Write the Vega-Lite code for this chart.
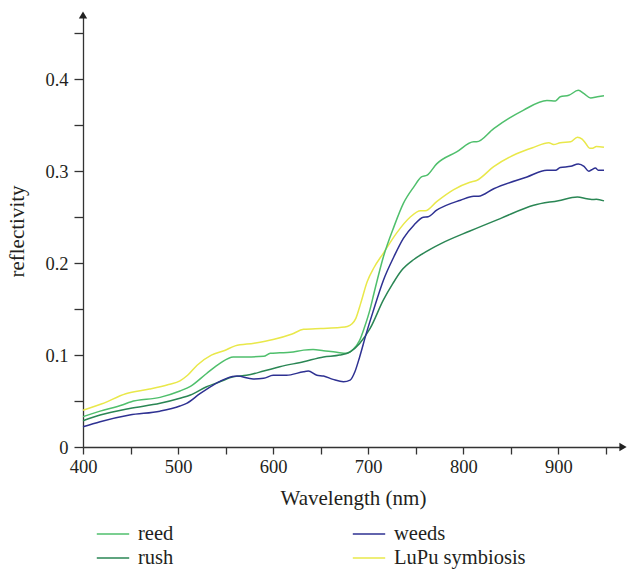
{
  "$schema": "https://vega.github.io/schema/vega-lite/v6.json",
  "autosize": {"type": "none"},
  "padding": {"left": 83, "top": 15, "right": 5, "bottom": 125},
  "width": 540,
  "height": 432,
  "background": "white",
  "config": {
    "view": {"stroke": null},
    "font": "Liberation Serif",
    "axis": {
      "domainColor": "#333333",
      "tickColor": "#333333",
      "labelColor": "#231f20",
      "titleColor": "#231f20",
      "labelFont": "Liberation Serif",
      "titleFont": "Liberation Serif",
      "labelFontSize": 18.5,
      "titleFontSize": 21,
      "titleFontWeight": "normal",
      "grid": false,
      "domainWidth": 1.3,
      "tickWidth": 1.3
    },
    "legend": {
      "labelFont": "Liberation Serif",
      "labelFontSize": 20.5,
      "labelColor": "#231f20"
    }
  },
  "datasets": {
    "spectra": [
      {"s": "LuPu symbiosis", "w": 400, "r": 0.040},
      {"s": "LuPu symbiosis", "w": 420, "r": 0.047},
      {"s": "LuPu symbiosis", "w": 445, "r": 0.058},
      {"s": "LuPu symbiosis", "w": 470, "r": 0.063},
      {"s": "LuPu symbiosis", "w": 490, "r": 0.068},
      {"s": "LuPu symbiosis", "w": 502, "r": 0.072},
      {"s": "LuPu symbiosis", "w": 510, "r": 0.078},
      {"s": "LuPu symbiosis", "w": 520, "r": 0.089},
      {"s": "LuPu symbiosis", "w": 535, "r": 0.100},
      {"s": "LuPu symbiosis", "w": 549, "r": 0.105},
      {"s": "LuPu symbiosis", "w": 560, "r": 0.110},
      {"s": "LuPu symbiosis", "w": 580, "r": 0.113},
      {"s": "LuPu symbiosis", "w": 600, "r": 0.117},
      {"s": "LuPu symbiosis", "w": 620, "r": 0.123},
      {"s": "LuPu symbiosis", "w": 632, "r": 0.128},
      {"s": "LuPu symbiosis", "w": 650, "r": 0.129},
      {"s": "LuPu symbiosis", "w": 670, "r": 0.130},
      {"s": "LuPu symbiosis", "w": 678, "r": 0.131},
      {"s": "LuPu symbiosis", "w": 683, "r": 0.134},
      {"s": "LuPu symbiosis", "w": 687, "r": 0.140},
      {"s": "LuPu symbiosis", "w": 692, "r": 0.156},
      {"s": "LuPu symbiosis", "w": 699, "r": 0.180},
      {"s": "LuPu symbiosis", "w": 706, "r": 0.195},
      {"s": "LuPu symbiosis", "w": 716, "r": 0.211},
      {"s": "LuPu symbiosis", "w": 730, "r": 0.233},
      {"s": "LuPu symbiosis", "w": 744, "r": 0.250},
      {"s": "LuPu symbiosis", "w": 755, "r": 0.257},
      {"s": "LuPu symbiosis", "w": 760, "r": 0.257},
      {"s": "LuPu symbiosis", "w": 772, "r": 0.267},
      {"s": "LuPu symbiosis", "w": 790, "r": 0.280},
      {"s": "LuPu symbiosis", "w": 807, "r": 0.288},
      {"s": "LuPu symbiosis", "w": 814, "r": 0.290},
      {"s": "LuPu symbiosis", "w": 832, "r": 0.305},
      {"s": "LuPu symbiosis", "w": 856, "r": 0.319},
      {"s": "LuPu symbiosis", "w": 874, "r": 0.326},
      {"s": "LuPu symbiosis", "w": 890, "r": 0.331},
      {"s": "LuPu symbiosis", "w": 895, "r": 0.329},
      {"s": "LuPu symbiosis", "w": 902, "r": 0.331},
      {"s": "LuPu symbiosis", "w": 913, "r": 0.332},
      {"s": "LuPu symbiosis", "w": 920, "r": 0.337},
      {"s": "LuPu symbiosis", "w": 925, "r": 0.335},
      {"s": "LuPu symbiosis", "w": 929, "r": 0.330},
      {"s": "LuPu symbiosis", "w": 933, "r": 0.325},
      {"s": "LuPu symbiosis", "w": 936, "r": 0.325},
      {"s": "LuPu symbiosis", "w": 940, "r": 0.327},
      {"s": "LuPu symbiosis", "w": 948, "r": 0.326},

      {"s": "reed", "w": 400, "r": 0.033},
      {"s": "reed", "w": 418, "r": 0.039},
      {"s": "reed", "w": 442, "r": 0.046},
      {"s": "reed", "w": 450, "r": 0.049},
      {"s": "reed", "w": 481, "r": 0.054},
      {"s": "reed", "w": 502, "r": 0.061},
      {"s": "reed", "w": 513, "r": 0.066},
      {"s": "reed", "w": 530, "r": 0.080},
      {"s": "reed", "w": 544, "r": 0.091},
      {"s": "reed", "w": 558, "r": 0.098},
      {"s": "reed", "w": 572, "r": 0.098},
      {"s": "reed", "w": 590, "r": 0.0986},
      {"s": "reed", "w": 597, "r": 0.102},
      {"s": "reed", "w": 607, "r": 0.1025},
      {"s": "reed", "w": 618, "r": 0.103},
      {"s": "reed", "w": 632, "r": 0.1054},
      {"s": "reed", "w": 642, "r": 0.106},
      {"s": "reed", "w": 653, "r": 0.1047},
      {"s": "reed", "w": 667, "r": 0.103},
      {"s": "reed", "w": 677, "r": 0.102},
      {"s": "reed", "w": 684, "r": 0.106},
      {"s": "reed", "w": 691, "r": 0.116},
      {"s": "reed", "w": 696, "r": 0.130},
      {"s": "reed", "w": 702, "r": 0.150},
      {"s": "reed", "w": 706, "r": 0.167},
      {"s": "reed", "w": 716, "r": 0.207},
      {"s": "reed", "w": 727, "r": 0.2395},
      {"s": "reed", "w": 737, "r": 0.265},
      {"s": "reed", "w": 748, "r": 0.283},
      {"s": "reed", "w": 756, "r": 0.2938},
      {"s": "reed", "w": 762, "r": 0.2957},
      {"s": "reed", "w": 772, "r": 0.308},
      {"s": "reed", "w": 793, "r": 0.321},
      {"s": "reed", "w": 811, "r": 0.332},
      {"s": "reed", "w": 814, "r": 0.332},
      {"s": "reed", "w": 832, "r": 0.3464},
      {"s": "reed", "w": 863, "r": 0.3663},
      {"s": "reed", "w": 888, "r": 0.377},
      {"s": "reed", "w": 897, "r": 0.3765},
      {"s": "reed", "w": 902, "r": 0.381},
      {"s": "reed", "w": 911, "r": 0.3826},
      {"s": "reed", "w": 921, "r": 0.388},
      {"s": "reed", "w": 927, "r": 0.3844},
      {"s": "reed", "w": 934, "r": 0.3797},
      {"s": "reed", "w": 941, "r": 0.381},
      {"s": "reed", "w": 948, "r": 0.3822},

      {"s": "rush", "w": 400, "r": 0.0286},
      {"s": "rush", "w": 418, "r": 0.0348},
      {"s": "rush", "w": 449, "r": 0.042},
      {"s": "rush", "w": 481, "r": 0.0475},
      {"s": "rush", "w": 502, "r": 0.053},
      {"s": "rush", "w": 513, "r": 0.0565},
      {"s": "rush", "w": 530, "r": 0.0656},
      {"s": "rush", "w": 544, "r": 0.071},
      {"s": "rush", "w": 558, "r": 0.0764},
      {"s": "rush", "w": 572, "r": 0.078},
      {"s": "rush", "w": 590, "r": 0.0826},
      {"s": "rush", "w": 607, "r": 0.0873},
      {"s": "rush", "w": 632, "r": 0.0928},
      {"s": "rush", "w": 653, "r": 0.098},
      {"s": "rush", "w": 670, "r": 0.100},
      {"s": "rush", "w": 681, "r": 0.1036},
      {"s": "rush", "w": 691, "r": 0.1127},
      {"s": "rush", "w": 702, "r": 0.129},
      {"s": "rush", "w": 716, "r": 0.160},
      {"s": "rush", "w": 726, "r": 0.178},
      {"s": "rush", "w": 735, "r": 0.192},
      {"s": "rush", "w": 748, "r": 0.204},
      {"s": "rush", "w": 760, "r": 0.212},
      {"s": "rush", "w": 776, "r": 0.221},
      {"s": "rush", "w": 807, "r": 0.235},
      {"s": "rush", "w": 840, "r": 0.249},
      {"s": "rush", "w": 874, "r": 0.263},
      {"s": "rush", "w": 900, "r": 0.268},
      {"s": "rush", "w": 920, "r": 0.272},
      {"s": "rush", "w": 930, "r": 0.270},
      {"s": "rush", "w": 935, "r": 0.2692},
      {"s": "rush", "w": 940, "r": 0.2695},
      {"s": "rush", "w": 948, "r": 0.2678},

      {"s": "weeds", "w": 400, "r": 0.022},
      {"s": "weeds", "w": 418, "r": 0.0275},
      {"s": "weeds", "w": 449, "r": 0.0348},
      {"s": "weeds", "w": 481, "r": 0.039},
      {"s": "weeds", "w": 502, "r": 0.0446},
      {"s": "weeds", "w": 509, "r": 0.0475},
      {"s": "weeds", "w": 523, "r": 0.058},
      {"s": "weeds", "w": 537, "r": 0.0674},
      {"s": "weeds", "w": 551, "r": 0.0747},
      {"s": "weeds", "w": 562, "r": 0.0772},
      {"s": "weeds", "w": 579, "r": 0.074},
      {"s": "weeds", "w": 590, "r": 0.0747},
      {"s": "weeds", "w": 600, "r": 0.078},
      {"s": "weeds", "w": 614, "r": 0.078},
      {"s": "weeds", "w": 632, "r": 0.0819},
      {"s": "weeds", "w": 637, "r": 0.0826},
      {"s": "weeds", "w": 646, "r": 0.078},
      {"s": "weeds", "w": 653, "r": 0.0772},
      {"s": "weeds", "w": 663, "r": 0.0736},
      {"s": "weeds", "w": 674, "r": 0.071},
      {"s": "weeds", "w": 681, "r": 0.0728},
      {"s": "weeds", "w": 686, "r": 0.0819},
      {"s": "weeds", "w": 691, "r": 0.098},
      {"s": "weeds", "w": 698, "r": 0.1236},
      {"s": "weeds", "w": 705, "r": 0.147},
      {"s": "weeds", "w": 716, "r": 0.1815},
      {"s": "weeds", "w": 727, "r": 0.207},
      {"s": "weeds", "w": 737, "r": 0.227},
      {"s": "weeds", "w": 748, "r": 0.2413},
      {"s": "weeds", "w": 758, "r": 0.250},
      {"s": "weeds", "w": 763, "r": 0.2505},
      {"s": "weeds", "w": 772, "r": 0.2576},
      {"s": "weeds", "w": 797, "r": 0.2685},
      {"s": "weeds", "w": 811, "r": 0.2728},
      {"s": "weeds", "w": 816, "r": 0.2728},
      {"s": "weeds", "w": 832, "r": 0.281},
      {"s": "weeds", "w": 867, "r": 0.2938},
      {"s": "weeds", "w": 888, "r": 0.301},
      {"s": "weeds", "w": 897, "r": 0.301},
      {"s": "weeds", "w": 902, "r": 0.304},
      {"s": "weeds", "w": 913, "r": 0.3054},
      {"s": "weeds", "w": 921, "r": 0.308},
      {"s": "weeds", "w": 927, "r": 0.3054},
      {"s": "weeds", "w": 932, "r": 0.300},
      {"s": "weeds", "w": 935, "r": 0.3016},
      {"s": "weeds", "w": 939, "r": 0.3036},
      {"s": "weeds", "w": 942, "r": 0.301},
      {"s": "weeds", "w": 948, "r": 0.301}
    ],
    "arrows": [
      {"ax": 968, "ay": 0, "shape": "triangle-right"},
      {"ax": 400, "ay": 0.47, "shape": "triangle-up"}
    ]
  },
  "layer": [
    {
      "data": {"name": "spectra"},
      "mark": {"type": "line", "strokeWidth": 1.5, "interpolate": "monotone"},
      "encoding": {
        "x": {
          "field": "w", "type": "quantitative",
          "scale": {"domain": [400, 968], "nice": false, "zero": false},
          "axis": {
            "title": "Wavelength (nm)",
            "values": [400, 450, 500, 550, 600, 650, 700, 750, 800, 850, 900, 950],
            "labelExpr": "datum.value % 100 == 0 ? datum.label : ''",
            "tickSize": 7,
            "labelPadding": 3,
            "titlePadding": 12,
            "labelFlush": false,
            "labelOverlap": false
          }
        },
        "y": {
          "field": "r", "type": "quantitative",
          "scale": {"domain": [0, 0.47], "nice": false},
          "axis": {
            "title": "reflectivity",
            "values": [0, 0.05, 0.1, 0.15, 0.2, 0.25, 0.3, 0.35, 0.4, 0.45],
            "labelExpr": "round(datum.value * 100) % 10 == 0 ? format(datum.value, '.1~f') : ''",
            "tickSize": 9,
            "labelPadding": 6,
            "titlePadding": 17,
            "labelFlush": false,
            "labelOverlap": false
          }
        },
        "color": {
          "field": "s", "type": "nominal",
          "scale": {
            "domain": ["reed", "rush", "weeds", "LuPu symbiosis"],
            "range": ["#4fbf6c", "#2a8654", "#2e3192", "#e9e84a"]
          },
          "legend": {
            "title": null,
            "orient": "none",
            "legendX": 13,
            "legendY": 508,
            "columns": 2,
            "columnPadding": 178,
            "rowPadding": 2,
            "clipHeight": 22,
            "symbolType": "stroke",
            "symbolSize": 1050,
            "symbolStrokeWidth": 1.5,
            "labelOffset": 8
          }
        }
      }
    },
    {
      "data": {"name": "arrows"},
      "mark": {"type": "point", "filled": true, "color": "#222222", "size": 70, "opacity": 1, "clip": false},
      "encoding": {
        "x": {"field": "ax", "type": "quantitative"},
        "y": {"field": "ay", "type": "quantitative"},
        "shape": {"field": "shape", "type": "nominal", "scale": null}
      }
    }
  ]
}
